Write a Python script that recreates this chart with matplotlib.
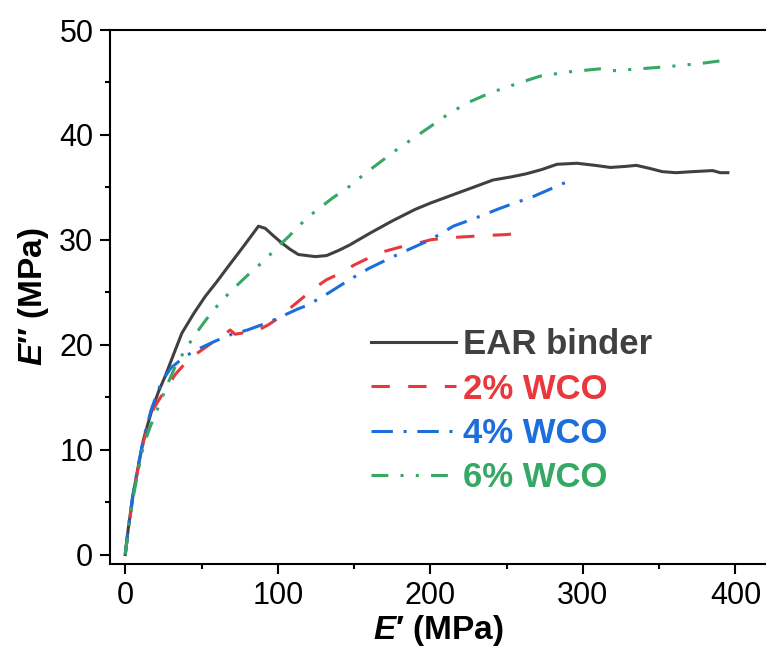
import matplotlib
matplotlib.use("Agg")
import matplotlib.pyplot as plt
from matplotlib.ticker import MultipleLocator

plt.rcParams['font.family'] = ['Liberation Sans', 'DejaVu Sans']
plt.rcParams['mathtext.fontset'] = 'custom'
plt.rcParams['mathtext.it'] = 'Liberation Sans:italic:bold'
plt.rcParams['mathtext.rm'] = 'Liberation Sans:bold'

# EAR binder
ear_x = [0, 2, 5, 8, 12, 17.5, 22, 26.2, 32, 37.1, 45, 52.4, 60, 67.7, 74, 80.7, 87.3, 91.7, 97, 102.6, 108, 113.5, 124.5, 132, 140, 147,
         160, 175, 190, 200, 213, 228, 241, 253, 263, 273, 283, 296, 308, 318, 328, 335, 344, 352, 361, 372, 385, 390, 395]
ear_y = [0, 2.5, 5.6, 8.0, 11.0, 13.8, 15.6, 17.0, 19.2, 21.1, 23.0, 24.6, 26.0, 27.5, 28.7, 30.0, 31.3, 31.1, 30.4, 29.7, 29.1, 28.6, 28.4, 28.5, 29.0, 29.5,
         30.6, 31.8, 32.9, 33.5, 34.2, 35.0, 35.7, 36.0, 36.3, 36.7, 37.2, 37.3, 37.1, 36.9, 37.0, 37.1, 36.8, 36.5, 36.4, 36.5, 36.6, 36.4, 36.4]

# 2% WCO
wco2_x = [0, 2, 5, 8, 12, 18.5, 26.2, 33, 41.5, 50.2, 57, 63.3, 68.8, 72, 80, 87.3, 93.8, 101, 109, 115.7,
          124, 132, 140.8, 150, 160, 170, 180, 190, 200, 212, 223.8, 234.6, 250, 256.5, 260.8]
wco2_y = [0, 2.4, 5.4, 7.9, 10.8, 13.9, 15.7, 17.2, 18.6, 19.5, 20.2, 20.8, 21.4, 21.0, 21.2, 21.4, 21.9, 22.6, 23.6, 24.4,
          25.4, 26.2, 26.8, 27.6, 28.3, 28.9, 29.3, 29.6, 30.0, 30.2, 30.3, 30.4, 30.5, 30.6, 31.0]

# 4% WCO
wco4_x = [0, 2, 5, 8, 12, 17, 23.5, 30, 39.3, 48, 56.8, 63, 69.9, 80, 89.5, 98, 107, 113, 120, 134, 147,
          160, 180, 200, 215, 230, 245.6, 257, 267, 278, 289]
wco4_y = [0, 2.6, 5.7, 8.1, 11.1, 13.8, 16.4, 17.8, 18.9, 19.6, 20.2, 20.6, 21.0, 21.4, 21.9, 22.4, 23.0, 23.4, 23.8, 25.0, 26.2,
          27.3, 28.7, 30.0, 31.3, 32.1, 33.0, 33.6, 34.1, 34.8, 35.5]

# 6% WCO
wco6_x = [0, 2, 5, 8, 12, 16.4, 21.8, 27, 32.7, 38, 43.7, 49, 54.6, 62, 69.9, 80, 91.7, 99, 107, 113, 120, 128, 136, 147,
          157, 167, 178, 190, 200, 212.8, 225, 239, 255, 271.8, 290, 311, 317.6, 337, 354.7, 376.6, 397.3]
wco6_y = [0, 2.3, 5.3, 7.6, 10.4, 12.2, 14.1, 16.0, 17.9, 19.2, 20.5, 21.6, 22.7, 24.0, 25.2, 26.6, 28.1, 29.2, 30.3, 31.2, 32.2, 33.1, 34.0, 35.1,
          36.3, 37.4, 38.6, 39.8, 40.8, 42.1, 43.1, 44.0, 44.8, 45.6, 46.0, 46.3, 46.1, 46.3, 46.5, 46.8, 47.2]

labels = ['EAR binder', '2% WCO', '4% WCO', '6% WCO']
colors = ['#404040', '#E8383D', '#1C6EDC', '#35A864']

fig = plt.figure(figsize=(7.66, 6.57), dpi=100)
ax = fig.add_axes([0.1436, 0.1416, 0.8564, 0.8127])

lw = 2.2
ax.plot(ear_x, ear_y, color=colors[0], lw=lw, ls='-', label=labels[0])
ax.plot(wco2_x, wco2_y, color=colors[1], lw=lw, dashes=(6, 6), label=labels[1])
ax.plot(wco4_x, wco4_y, color=colors[2], lw=lw, dashes=(7, 3.5, 1, 3.5), label=labels[2])
ax.plot(wco6_x, wco6_y, color=colors[3], lw=lw, dashes=(5.5, 4, 1, 4, 1, 4), label=labels[3])

ax.set_xlim(-10, 420)
ax.set_ylim(-0.9, 50)
ax.xaxis.set_major_locator(MultipleLocator(100))
ax.xaxis.set_minor_locator(MultipleLocator(50))
ax.yaxis.set_major_locator(MultipleLocator(10))
ax.yaxis.set_minor_locator(MultipleLocator(5))

for s in ['left', 'bottom', 'top']:
    ax.spines[s].set_linewidth(1.5)
ax.spines['right'].set_visible(False)

ax.tick_params(which='major', direction='out', length=7, width=1.5, labelsize=22, pad=5)
ax.tick_params(which='minor', direction='out', length=3.6, width=1.5)
ax.tick_params(top=False, right=False, which='both')

ax.set_xlabel("$\\mathit{E\u2032}$ (MPa)", fontsize=24, fontweight='bold', labelpad=2)
ax.set_ylabel("$\\mathit{E\u2033}$ (MPa)", fontsize=24, fontweight='bold', labelpad=6)

leg = ax.legend(loc='upper left', bbox_to_anchor=(0.3976, 0.441), frameon=False,
                prop={'size': 25, 'weight': 'bold'}, handlelength=2.45, handletextpad=0.2,
                labelspacing=0.32, borderpad=0, borderaxespad=0)
for t, c in zip(leg.get_texts(), colors):
    t.set_color(c)

fig.savefig('out.png', dpi=100)
